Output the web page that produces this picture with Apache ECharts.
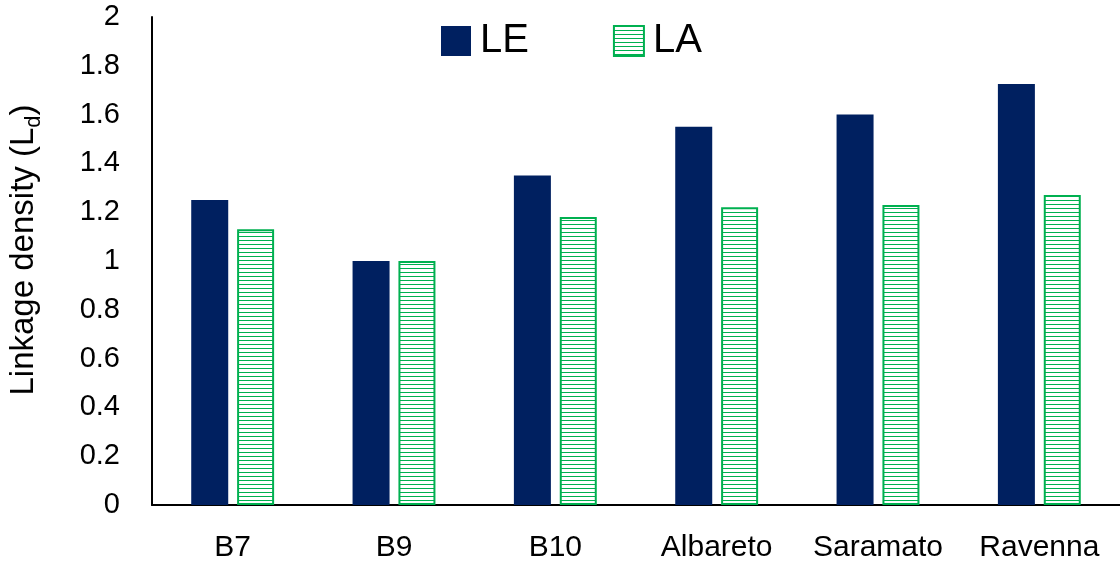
<!DOCTYPE html>
<html>
<head>
<meta charset="utf-8">
<style>
  html, body { margin: 0; padding: 0; background: #fff; }
  #chart { width: 1120px; height: 567px; }
</style>
<script src="https://cdn.jsdelivr.net/npm/echarts@6/dist/echarts.min.js"></script>
</head>
<body>
<div id="chart"></div>
<script>
// Sites along the x axis
const categories = ['B7', 'B9', 'B10', 'Albareto', 'Saramato', 'Ravenna'];
// Linkage density per site
const valuesLE = [1.25, 1.0, 1.35, 1.55, 1.6, 1.725];
const valuesLA = [1.13, 1.0, 1.18, 1.22, 1.23, 1.27];
const seriesNames = ['LE', 'LA'];

const FONT = '"Liberation Sans", Arial, sans-serif';
const NAVY = '#002060';
const GREEN = '#00b050';

// Horizontal-line hatch for the LA bars
function hatchPattern() {
  const c = document.createElement('canvas');
  c.width = 4; c.height = 4;
  const ctx = c.getContext('2d');
  ctx.fillStyle = '#ffffff';
  ctx.fillRect(0, 0, 4, 4);
  ctx.fillStyle = GREEN;
  ctx.fillRect(0, 0, 4, 1);
  return c;
}
const hatch = { image: hatchPattern(), repeat: 'repeat' };

const chart = echarts.init(document.getElementById('chart'), null, { renderer: 'canvas' });

chart.setOption({
  animation: false,
  backgroundColor: '#ffffff',
  grid: { left: 152, right: 0, top: 17, bottom: 62, containLabel: false },
  legend: {
    data: seriesNames,
    left: 436,
    top: 16,
    icon: 'rect',
    itemWidth: 30,
    itemHeight: 30,
    itemGap: 84,
    textStyle: { fontFamily: FONT, fontSize: 40, color: '#000', padding: [0, 0, 0, 4] }
  },
  xAxis: {
    type: 'category',
    data: categories,
    axisLine: { lineStyle: { color: '#000', width: 2 } },
    axisTick: { show: false },
    axisLabel: { fontFamily: FONT, fontSize: 30, color: '#000', margin: 28, interval: 0 }
  },
  yAxis: {
    type: 'value',
    min: 0,
    max: 2,
    interval: 0.2,
    axisLine: { show: true, lineStyle: { color: '#000', width: 2 } },
    axisTick: { show: false },
    splitLine: { show: false },
    axisLabel: { fontFamily: FONT, fontSize: 29, color: '#000', margin: 32 }
  },
  graphic: [{
    type: 'text',
    x: 26,
    y: 250,
    rotation: Math.PI / 2,
    style: {
      text: '{m|Linkage density (L}{s|d}{m|)}',
      align: 'center',
      verticalAlign: 'middle',
      fill: '#000',
      rich: {
        m: { fontFamily: FONT, fontSize: 33, fill: '#000', verticalAlign: 'top', padding: [0, 0, 5, 0] },
        s: { fontFamily: FONT, fontSize: 22, fill: '#000', verticalAlign: 'bottom' }
      }
    }
  }],
  series: [
    {
      name: seriesNames[0],
      type: 'bar',
      data: valuesLE,
      barWidth: 37,
      barGap: '24%',
      itemStyle: { color: NAVY }
    },
    {
      name: seriesNames[1],
      type: 'bar',
      data: valuesLA,
      barWidth: 37,
      itemStyle: { color: hatch, borderColor: GREEN, borderWidth: 2 }
    }
  ]
});
</script>
</body>
</html>
